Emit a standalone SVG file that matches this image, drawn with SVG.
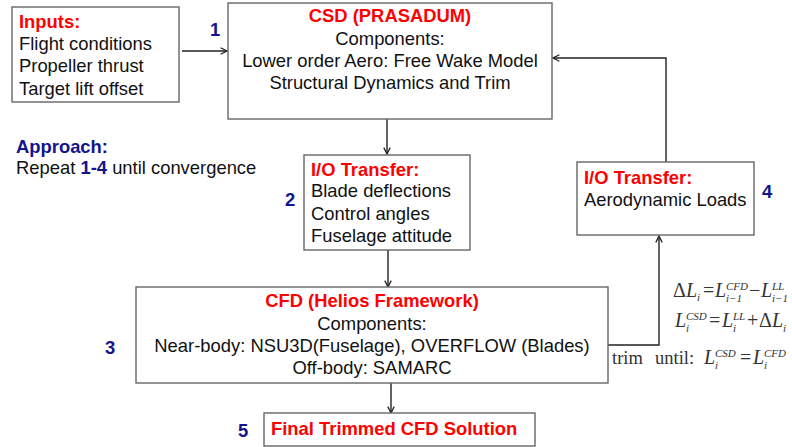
<svg xmlns="http://www.w3.org/2000/svg" width="792" height="447" viewBox="0 0 792 447">
<style>
text{font-family:"Liberation Sans",Arial,sans-serif;font-size:18.4px;fill:#111}
.h{fill:#f00;font-weight:bold}
.n{fill:#14148c;font-weight:bold}
.box{fill:#fff;stroke:#666;stroke-width:1.4}
.c{fill:none;stroke:#222;stroke-width:1.4}
.m{font-family:"Liberation Serif","Times New Roman",serif;fill:#333;font-size:20px}
.i{font-style:italic}
.s{font-size:11px;font-style:italic}
</style>
<defs>
<marker id="a" viewBox="0 0 10 10" refX="9" refY="5" markerWidth="8" markerHeight="8" orient="auto" markerUnits="userSpaceOnUse">
<path d="M1,1 L9,5 L1,9" fill="none" stroke="#222" stroke-width="1.6"/>
</marker>
</defs>
<g id="connectors">
<line class="c" x1="182" y1="51" x2="227" y2="51" marker-end="url(#a)"/>
<line class="c" x1="387" y1="119" x2="387" y2="154" marker-end="url(#a)"/>
<line class="c" x1="388" y1="250" x2="388" y2="287" marker-end="url(#a)"/>
<line class="c" x1="391" y1="383" x2="391" y2="413" marker-end="url(#a)"/>
<polyline class="c" points="608,345 659,345 659,236" marker-end="url(#a)"/>
<polyline class="c" points="666,162 666,58 553,58" marker-end="url(#a)"/>
</g>
<g id="inputs">
<rect class="box" x="12" y="7" width="167" height="95"/>
<text x="19" y="28" class="h">Inputs:</text>
<text x="19" y="50">Flight conditions</text>
<text x="19" y="72">Propeller thrust</text>
<text x="19" y="95">Target lift offset</text>
</g>
<g id="csd">
<rect class="box" x="228" y="3" width="324" height="116"/>
<text x="390" y="22" class="h" text-anchor="middle">CSD (PRASADUM)</text>
<text x="390" y="45" text-anchor="middle">Components:</text>
<text x="390" y="67" text-anchor="middle">Lower order Aero: Free Wake Model</text>
<text x="390" y="89" text-anchor="middle">Structural Dynamics and Trim</text>
</g>
<g id="io1">
<rect class="box" x="304" y="155" width="166" height="95"/>
<text x="311" y="176" class="h">I/O Transfer:</text>
<text x="311" y="197">Blade deflections</text>
<text x="311" y="220">Control angles</text>
<text x="311" y="242">Fuselage attitude</text>
</g>
<g id="cfd">
<rect class="box" x="136" y="287" width="472" height="96"/>
<text x="372" y="307" class="h" text-anchor="middle">CFD (Helios Framework)</text>
<text x="372" y="330" text-anchor="middle">Components:</text>
<text x="372" y="352" text-anchor="middle">Near-body: NSU3D(Fuselage), OVERFLOW (Blades)</text>
<text x="372" y="374" text-anchor="middle">Off-body: SAMARC</text>
</g>
<g id="io2">
<rect class="box" x="577" y="162" width="177" height="73"/>
<text x="584" y="184" class="h">I/O Transfer:</text>
<text x="584" y="206">Aerodynamic Loads</text>
</g>
<g id="final">
<rect class="box" x="264" y="413" width="271" height="33"/>
<text x="271" y="435" class="h">Final Trimmed CFD Solution</text>
</g>
<g id="labels">
<text x="210" y="36" class="n">1</text>
<text x="285" y="206" class="n">2</text>
<text x="105" y="354" class="n">3</text>
<text x="762" y="198" class="n">4</text>
<text x="238" y="437" class="n">5</text>
<text x="16" y="153" class="n">Approach:</text>
<text x="16" y="174">Repeat <tspan class="n">1-4</tspan> until convergence</text>
</g>
<g id="formulas">
<text class="m"><tspan x="673" y="297">Δ</tspan><tspan class="i" x="686" y="297">L</tspan><tspan class="s" x="697" y="301">i</tspan><tspan x="703" y="297">=</tspan><tspan class="i" x="715" y="297">L</tspan><tspan class="s" x="726" y="290">CFD</tspan><tspan class="s" x="726" y="302">i−1</tspan><tspan x="749" y="297">−</tspan><tspan class="i" x="761" y="297">L</tspan><tspan class="s" x="772" y="290">LL</tspan><tspan class="s" x="772" y="302">i−1</tspan></text>
<text class="m"><tspan class="i" x="675" y="327">L</tspan><tspan class="s" x="686" y="320">CSD</tspan><tspan class="s" x="686" y="332">i</tspan><tspan x="709" y="327">=</tspan><tspan class="i" x="722" y="327">L</tspan><tspan class="s" x="733" y="320">LL</tspan><tspan class="s" x="733" y="332">i</tspan><tspan x="747" y="327">+</tspan><tspan x="759" y="327">Δ</tspan><tspan class="i" x="772" y="327">L</tspan><tspan class="s" x="783" y="332">i</tspan></text>
<text class="m"><tspan x="612" y="364" font-size="18.5">trim</tspan><tspan x="655" y="364" font-size="18.5">until:</tspan><tspan class="i" x="704" y="364">L</tspan><tspan class="s" x="715" y="357">CSD</tspan><tspan class="s" x="715" y="369">i</tspan><tspan x="740" y="364">=</tspan><tspan class="i" x="753" y="364">L</tspan><tspan class="s" x="764" y="357">CFD</tspan><tspan class="s" x="764" y="369">i</tspan></text>
</g>
</svg>
